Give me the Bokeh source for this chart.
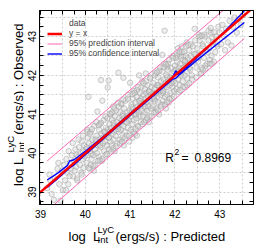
from bokeh.plotting import figure
from bokeh.models import (Label, Legend, LegendItem, LinearAxis, SingleIntervalTicker, Range1d)
from bokeh.layouts import column, row
from bokeh.embed import file_html
from bokeh.resources import INLINE

# ---- data ----
pred_a = [39.15, 39.20, 39.25, 39.30, 39.32, 39.38, 39.42, 39.45, 39.48, 39.50, 39.22, 39.40]
obs_a = [39.10, 39.45, 38.95, 38.80, 39.35, 39.60, 39.20, 38.78, 39.55, 39.05, 39.30, 39.75]

pred_b = [39.52, 39.55, 39.58, 39.60, 39.62, 39.63, 39.65, 39.66, 39.68, 39.70,
          39.72, 39.73, 39.75, 39.76, 39.78, 39.80, 39.80, 39.82, 39.84, 39.86,
          39.88, 39.90, 39.91, 39.92, 39.94, 39.95, 39.96, 39.98, 39.99, 39.57]
obs_b = [39.70, 39.30, 39.85, 39.50, 39.20, 40.05, 39.41, 39.75, 39.60, 39.95,
         40.26, 39.40, 39.80, 39.55, 40.10, 39.96, 39.65, 39.30, 39.90, 40.15,
         39.70, 40.00, 39.50, 40.30, 39.85, 40.05, 39.62, 40.20, 39.92, 39.05]

pred_c = [40.02, 40.03, 40.05, 40.06, 40.07, 40.08, 40.10, 40.11, 40.12, 40.14,
          40.15, 40.16, 40.18, 40.20, 40.21, 40.22, 40.24, 40.25, 40.26, 40.27,
          40.28, 40.30, 40.31, 40.32, 40.34, 40.35, 40.36, 40.37, 40.38, 40.39,
          40.40, 40.41, 40.42, 40.43, 40.44, 40.45, 40.46, 40.47, 40.48, 40.49,
          40.50, 40.50, 40.04, 40.33, 40.19]
obs_c = [40.10, 39.75, 40.40, 39.95, 41.45, 40.25, 39.60, 40.05, 40.55, 39.85,
         40.20, 40.35, 39.95, 40.70, 40.10, 39.70, 40.30, 40.45, 40.00, 41.07,
         40.20, 39.90, 40.60, 40.35, 40.15, 41.88, 40.50, 39.80, 41.35, 40.40,
         40.25, 40.85, 40.05, 40.55, 40.30, 39.95, 40.65, 40.45, 40.20, 40.90,
         41.69, 40.60, 40.60, 40.75, 39.55]

pred_d = [40.52, 40.52, 40.53, 40.54, 40.55, 40.56, 40.57, 40.58, 40.59, 40.60,
          40.61, 40.62, 40.63, 40.64, 40.65, 40.66, 40.67, 40.68, 40.69, 40.70,
          40.71, 40.72, 40.73, 40.74, 40.75, 40.76, 40.77, 40.78, 40.79, 40.80,
          40.81, 40.82, 40.83, 40.84, 40.85, 40.85, 40.86, 40.87, 40.88, 40.89,
          40.90, 40.91, 40.92, 40.93, 40.94, 40.95, 40.96, 40.97, 40.98, 40.99]
obs_d = [41.87, 40.40, 40.10, 40.75, 40.55, 40.30, 41.00, 40.65, 40.20, 40.85,
         40.50, 41.20, 40.35, 40.70, 40.05, 40.95, 40.60, 40.45, 41.10, 40.80,
         40.25, 40.70, 41.30, 42.07, 40.55, 40.90, 40.35, 41.05, 40.75, 40.60,
         41.25, 40.85, 40.40, 41.00, 41.94, 40.70, 40.20, 41.15, 40.90, 40.55,
         41.35, 40.80, 40.45, 41.05, 40.95, 40.65, 41.50, 40.85, 40.30, 41.10]

pred_e = [41.00, 41.01, 41.02, 41.03, 41.04, 41.05, 41.06, 41.07, 41.08, 41.09,
          41.10, 41.11, 41.12, 41.13, 41.14, 41.15, 41.16, 41.17, 41.18, 41.19,
          41.20, 41.21, 41.22, 41.23, 41.24, 41.25, 41.26, 41.27, 41.28, 41.29,
          41.30, 41.31, 41.32, 41.33, 41.34, 41.35, 41.36, 41.37, 41.38, 41.39,
          41.40, 41.41, 41.42, 41.43, 41.44, 41.45, 41.46, 41.47, 41.48, 41.49,
          41.05, 41.20, 41.35, 41.15, 41.42]
obs_e = [41.81, 40.95, 40.60, 41.25, 41.05, 40.75, 41.40, 41.15, 40.85, 41.60,
         41.00, 40.50, 41.30, 41.10, 40.90, 41.45, 41.20, 40.70, 41.70, 41.05,
         41.35, 40.95, 41.55, 41.20, 40.80, 41.40, 41.10, 41.85, 41.30, 40.95,
         41.50, 41.25, 41.05, 41.65, 41.40, 40.85, 41.55, 41.30, 41.10, 41.75,
         41.45, 41.20, 41.60, 40.95, 41.35, 41.95, 41.50, 41.15, 41.70, 41.40,
         40.40, 42.00, 42.05, 40.45, 40.80]

pred_f = [41.50, 41.51, 41.52, 41.53, 41.54, 41.55, 41.56, 41.57, 41.58, 41.59,
          41.60, 41.61, 41.62, 41.63, 41.64, 41.65, 41.66, 41.67, 41.68, 41.69,
          41.70, 41.71, 41.72, 41.73, 41.74, 41.75, 41.76, 41.77, 41.78, 41.79,
          41.80, 41.81, 41.82, 41.83, 41.84, 41.85, 41.86, 41.87, 41.88, 41.89,
          41.90, 41.91, 41.92, 41.93, 41.94, 41.95, 41.96, 41.97, 41.98, 41.99,
          41.77, 41.72, 41.83]
obs_f = [41.55, 41.20, 41.80, 41.45, 41.05, 41.65, 41.35, 42.05, 41.55, 41.15,
         41.75, 41.45, 41.95, 41.30, 41.70, 41.00, 41.60, 42.20, 41.50, 41.85,
         41.25, 41.70, 42.10, 41.55, 41.35, 41.90, 41.65, 42.30, 41.45, 41.80,
         41.15, 42.00, 41.70, 41.50, 42.15, 41.85, 41.30, 42.40, 41.75, 41.95,
         41.55, 42.20, 41.90, 41.40, 42.05, 41.70, 42.50, 41.85, 41.60, 42.10,
         43.15, 42.53, 42.23]

pred_g = [42.00, 42.01, 42.02, 42.03, 42.04, 42.05, 42.06, 42.07, 42.08, 42.09,
          42.10, 42.11, 42.12, 42.13, 42.14, 42.15, 42.16, 42.17, 42.18, 42.19,
          42.20, 42.21, 42.22, 42.23, 42.24, 42.25, 42.26, 42.27, 42.28, 42.29,
          42.30, 42.32, 42.34, 42.36, 42.38, 42.40, 42.42, 42.44, 42.46, 42.48]
obs_g = [42.25, 41.80, 42.45, 42.00, 41.65, 42.35, 42.10, 42.70, 41.90, 42.20,
         42.55, 41.75, 42.30, 42.49, 42.05, 42.75, 42.15, 41.85, 42.40, 42.20,
         42.60, 42.00, 42.35, 41.70, 42.50, 42.25, 42.85, 42.10, 41.92, 42.45,
         42.30, 42.65, 42.15, 42.50, 42.00, 42.75, 42.35, 43.20, 42.55, 42.20]

pred_h = [42.50, 42.52, 42.55, 42.57, 42.60, 42.62, 42.65, 42.67, 42.70, 42.72,
          42.75, 42.77, 42.80, 42.82, 42.85, 42.88, 42.90, 42.92, 42.95, 42.97,
          42.58, 42.68, 42.78, 42.53, 42.87]
obs_h = [42.70, 42.35, 42.90, 42.55, 42.20, 42.80, 42.45, 43.00, 42.65, 42.30,
         42.90, 42.70, 43.10, 42.50, 42.85, 43.11, 42.60, 43.00, 42.75, 43.25,
         42.05, 42.25, 42.40, 43.05, 42.35]

pred_i = [43.00, 43.03, 43.06, 43.10, 43.14, 43.18, 43.22, 43.26, 43.30, 43.33,
          43.38, 43.42, 43.47, 43.52, 43.12]
obs_i = [43.10, 42.80, 43.30, 43.00, 43.20, 42.85, 43.40, 42.77, 43.25, 43.49,
         43.10, 43.45, 43.30, 43.55, 42.65]

pred_j = [40.05, 40.15, 40.25, 40.35, 40.45, 40.55, 40.65, 40.75, 40.85, 40.95,
          41.05, 41.15, 41.25, 41.35, 41.45, 41.55, 41.65, 41.75, 41.85, 41.95,
          42.05, 42.15, 42.25, 42.35, 42.45, 42.55, 42.65, 42.75, 39.85, 39.95,
          40.10, 40.30, 40.60, 40.80, 41.10, 41.30, 41.60, 41.80, 42.10, 42.30,
          42.60, 42.80]
obs_j = [40.55, 40.62, 40.80, 40.78, 40.95, 41.02, 41.15, 41.20, 41.38, 41.40,
         41.52, 41.62, 41.70, 41.85, 41.92, 42.00, 42.12, 42.22, 42.30, 42.45,
         42.52, 42.60, 42.75, 42.80, 42.90, 43.00, 43.05, 43.15, 40.35, 40.45,
         40.50, 40.72, 41.05, 41.28, 41.55, 41.80, 42.08, 42.28, 42.60, 42.78,
         43.02, 43.22]

pred_k = [40.08, 40.18, 40.28, 40.38, 40.48, 40.58, 40.68, 40.78, 40.88, 40.98,
          41.08, 41.18, 41.28, 41.38, 41.48, 41.58, 41.68, 41.78, 41.88, 41.98,
          42.08, 42.18, 42.28, 42.38, 42.48, 42.58, 42.68, 42.78, 39.82, 39.92,
          40.12, 40.32, 40.62, 40.82, 41.12, 41.32, 41.62, 41.82, 42.12, 42.32,
          42.62, 42.82]
obs_k = [39.62, 39.68, 39.80, 39.85, 39.98, 40.05, 40.18, 40.25, 40.38, 40.45,
         40.55, 40.68, 40.75, 40.90, 40.95, 41.05, 41.20, 41.25, 41.40, 41.45,
         41.58, 41.70, 41.75, 41.90, 41.95, 42.05, 42.18, 42.30, 39.35, 39.45,
         39.70, 39.82, 40.12, 40.30, 40.62, 40.80, 41.10, 41.32, 41.62, 41.80,
         42.15, 42.30]

pred_m = [40.03, 40.13, 40.23, 40.33, 40.43, 40.53, 40.63, 40.73, 40.83, 40.93,
          41.03, 41.13, 41.23, 41.33, 41.43, 41.53, 41.63, 41.73, 41.83, 41.93,
          42.03, 42.13, 42.23, 42.33, 42.43, 42.53, 42.63, 42.73, 42.83, 42.93]
obs_m = [40.15, 39.98, 40.35, 40.20, 40.55, 40.40, 40.78, 40.62, 40.95, 40.80,
         41.18, 41.00, 41.35, 41.20, 41.58, 41.40, 41.75, 41.60, 41.95, 41.80,
         42.15, 42.00, 42.38, 42.20, 42.55, 42.45, 42.75, 42.60, 42.98, 42.80]

predicted = (pred_a + pred_b + pred_c + pred_d + pred_e + pred_f + pred_g
             + pred_h + pred_i + pred_j + pred_k + pred_m)
observed = (obs_a + obs_b + obs_c + obs_d + obs_e + obs_f + obs_g
            + obs_h + obs_i + obs_j + obs_k + obs_m)

# 95% prediction interval (straight lines)
pi_x = [39.15, 43.55]
pi_upper = [39.80, 44.14]
pi_lower = [38.52, 42.95]

# 95% confidence interval (wiggly band)
ci_x = [39.15, 39.40, 39.60, 39.65, 39.75, 40.00, 40.50, 41.00, 41.50, 41.95,
        42.02, 42.08, 42.50, 43.00, 43.55]
ci_upper = [39.31, 39.50, 39.68, 39.80, 39.83, 40.05, 40.52, 41.02, 41.50, 41.95,
            42.12, 42.02, 42.47, 43.00, 43.66]
ci_lower = [39.12, 39.36, 39.57, 39.62, 39.70, 39.96, 40.47, 40.97, 41.46, 41.90,
            41.93, 42.00, 42.40, 42.86, 43.36]

# identity line y = x (clipped by the frame)
identity = [38.0, 45.0]

x_limits = (38.978, 43.754)
y_limits = (38.68, 43.67)
r2_text = "0.8969"

FONT = "Liberation Sans"
MAIN_H = 220   # 10 top + 194 frame + 16 bottom

p = figure(frame_width=214, frame_height=194,
           min_border_left=15, min_border_right=8, min_border_top=10, min_border_bottom=16,
           x_range=Range1d(*x_limits), y_range=Range1d(*y_limits),
           output_backend="svg", toolbar_location=None,
           background_fill_color="white", border_fill_color="white")
p.outline_line_color = "black"
p.outline_line_width = 1

major = SingleIntervalTicker(interval=1, num_minor_ticks=4)
p.add_layout(LinearAxis(ticker=major), "above")
p.add_layout(LinearAxis(ticker=major), "right")
for ax in p.axis:
    ax.ticker = major
    ax.axis_line_color = "black"
    ax.major_tick_in = 4
    ax.major_tick_out = 0
    ax.minor_tick_in = 4
    ax.minor_tick_out = 0
    ax.major_tick_line_color = "black"
    ax.minor_tick_line_color = "black"
    ax.major_label_text_font = FONT
    ax.major_label_text_font_size = "10px"
    ax.major_label_text_color = "black"
for ax in (p.above[0], p.right[0]):
    ax.major_label_text_font_size = "1px"
    ax.major_label_text_color = None
    ax.major_label_standoff = 0
p.xaxis[0].major_label_standoff = 4
p.yaxis[0].major_label_standoff = 3
p.yaxis[0].major_label_orientation = "parallel"

for g in (p.xgrid[0], p.ygrid[0]):
    g.ticker = SingleIntervalTicker(interval=0.5)
    g.grid_line_color = "#cfcfcf"
    g.grid_line_dash = "2 2"
    g.grid_line_width = 1

pts = p.scatter(predicted, observed, size=5.5, marker="circle",
                fill_color="#cccccc", fill_alpha=0.35,
                line_color="#a0a0a0", line_alpha=0.65, line_width=0.8)
legend_pt = p.scatter([], [], size=3.5, marker="circle", color="#777777")

pi_up = p.line(pi_x, pi_upper, line_color="#ff69b4", line_width=1)
p.line(pi_x, pi_lower, line_color="#ff69b4", line_width=1)
ci_up = p.line(ci_x, ci_upper, line_color="#0000ff", line_width=1.4)
p.line(ci_x, ci_lower, line_color="#0000ff", line_width=1.4)
ident = p.line(identity, identity, line_color="#ff0000", line_width=2.5)

legend = Legend(items=[
    LegendItem(label="data", renderers=[legend_pt]),
    LegendItem(label="y = x", renderers=[ident]),
    LegendItem(label="95% prediction interval", renderers=[pi_up]),
    LegendItem(label="95% confidence interval", renderers=[ci_up]),
], location=(8, 146), border_line_color=None, background_fill_alpha=0,
    padding=0, margin=0, spacing=0, glyph_width=15, glyph_height=9,
    label_height=9, label_standoff=7, label_text_font=FONT,
    label_text_font_size="8.5px")
p.add_layout(legend)


def add_text(fig, text, x, y, size, angle=0):
    fig.add_layout(Label(x=x, y=y, text=text, text_font=FONT, text_font_size=size,
                         text_color="black", angle=angle, angle_units="deg",
                         text_align="left", text_baseline="alphabetic"))


def add_frame_text(text, x, y, size):
    p.add_layout(Label(x=x, y=y, x_units="screen", y_units="screen", text=text,
                       text_font=FONT, text_font_size=size, text_color="black",
                       text_align="left", text_baseline="alphabetic"))


# R^2 annotation (frame pixels)
add_frame_text("R", 125.7, 47, "12px")
add_frame_text("2", 135, 53, "8.5px")
add_frame_text("=", 142, 47, "12px")
add_frame_text(r2_text, 155, 47, "12px")


def label_fig(w, h):
    return figure(width=w, height=h, x_range=Range1d(0, w), y_range=Range1d(0, h),
                  min_border=0, x_axis_type=None, y_axis_type=None,
                  toolbar_location=None, output_backend="svg",
                  outline_line_color=None, background_fill_color="white",
                  border_fill_color="white")


# y axis title (rotated), pixel coordinates of its own small canvas
ylab = label_fig(24, MAIN_H)
add_text(ylab, "log", 18, 21, "13px", 90)
add_text(ylab, "L", 18, 44.8, "13px", 90)
add_text(ylab, "LyC", 9.5, 59, "9.5px", 90)
add_text(ylab, "Int", 21, 59, "9.5px", 90)
add_text(ylab, "(ergs/s) : Observed", 18, 79, "13px", 90)

# x axis title
xlab = label_fig(261, 24)
add_text(xlab, "log", 68, 8, "13px")
add_text(xlab, "L", 92.5, 8, "13px")
add_text(xlab, "LyC", 97, 15.5, "9.5px")
add_text(xlab, "Int", 97, 5, "9.5px")
add_text(xlab, "(ergs/s) : Predicted", 115, 8, "13px")

layout = column(row(ylab, p, spacing=0), xlab, spacing=0)

open("out.html", "w").write(file_html(layout, INLINE))
